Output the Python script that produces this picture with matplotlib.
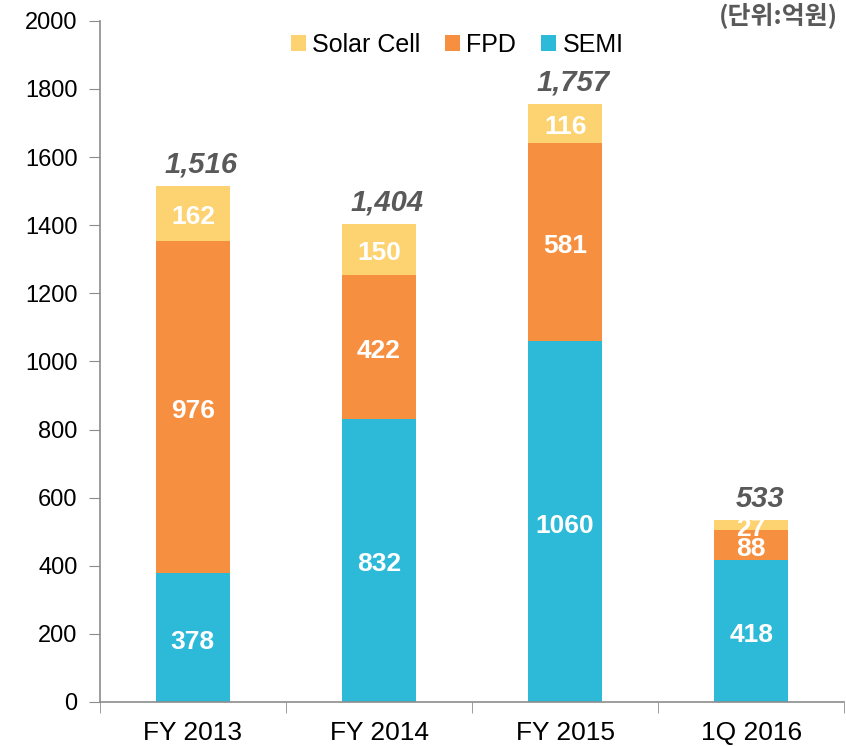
import matplotlib.pyplot as plt
import numpy as np

categories = ["FY 2013", "FY 2014", "FY 2015", "1Q 2016"]
semi = [378, 832, 1060, 418]
fpd = [976, 422, 581, 88]
solar = [162, 150, 116, 27]
totals = ["1,516", "1,404", "1,757", "533"]

plt.rcParams['font.family'] = ['Liberation Sans', 'Noto Sans CJK KR', 'DejaVu Sans']

c_semi = "#2cbad8"
c_fpd = "#f68f3f"
c_solar = "#fdd270"

fig = plt.figure(figsize=(8.46, 7.46), dpi=100)
ax = fig.add_axes([0.118, 0.059, 0.880, 0.913])

x = np.arange(len(categories))
w = 0.40
semi = np.array(semi)
fpd = np.array(fpd)
solar = np.array(solar)

ax.bar(x, semi, w, color=c_semi, label="SEMI")
ax.bar(x, fpd, w, bottom=semi, color=c_fpd, label="FPD")
ax.bar(x, solar, w, bottom=semi + fpd, color=c_solar, label="Solar Cell")

lab = dict(ha="center", va="center", color="white", fontsize=19, fontweight="bold")
for i in range(len(categories)):
    ax.text(x[i], semi[i] / 2 - 12, str(semi[i]), **lab)
    ax.text(x[i], semi[i] + fpd[i] / 2 - 12, str(fpd[i]), **lab)
    ax.text(x[i], semi[i] + fpd[i] + solar[i] / 2 - 12, str(solar[i]), **lab)
    top = semi[i] + fpd[i] + solar[i]
    ax.text(x[i] + 0.045, top + 62, totals[i], ha="center", va="center",
            color="#595959", fontsize=21, fontweight="bold", fontstyle="italic")

ax.set_xlim(-0.5, 3.5)
ax.set_ylim(0, 2000)
ax.set_yticks(np.arange(0, 2001, 200))
ax.tick_params(axis="y", labelsize=17, length=8, color="#8c8c8c", pad=8)
ax.set_xticks(x)
ax.set_xticklabels(categories, fontsize=19)
ax.tick_params(axis="x", length=0, pad=14)
ax.set_xticks(np.arange(-0.5, 3.6, 1), minor=True)
ax.tick_params(axis="x", which="minor", length=8, color="#8c8c8c")

for s in ["top", "right"]:
    ax.spines[s].set_visible(False)
for s in ["left", "bottom"]:
    ax.spines[s].set_color("#8c8c8c")
    ax.spines[s].set_linewidth(1.2)

handles, labels = ax.get_legend_handles_labels()
leg = ax.legend(handles[::-1], labels[::-1], loc="upper center",
                bbox_to_anchor=(0.48, 1.015), ncol=3, frameon=False, fontsize=18,
                handlelength=0.6, handleheight=0.6, handletextpad=0.25,
                columnspacing=1.0)

fig.text(0.99, 0.996, "(단위:억원)", ha="right", va="top", fontsize=18,
         fontweight="bold", color="#595959", family=['Noto Sans CJK KR', 'DejaVu Sans'])

fig.savefig("out.png", dpi=100)
